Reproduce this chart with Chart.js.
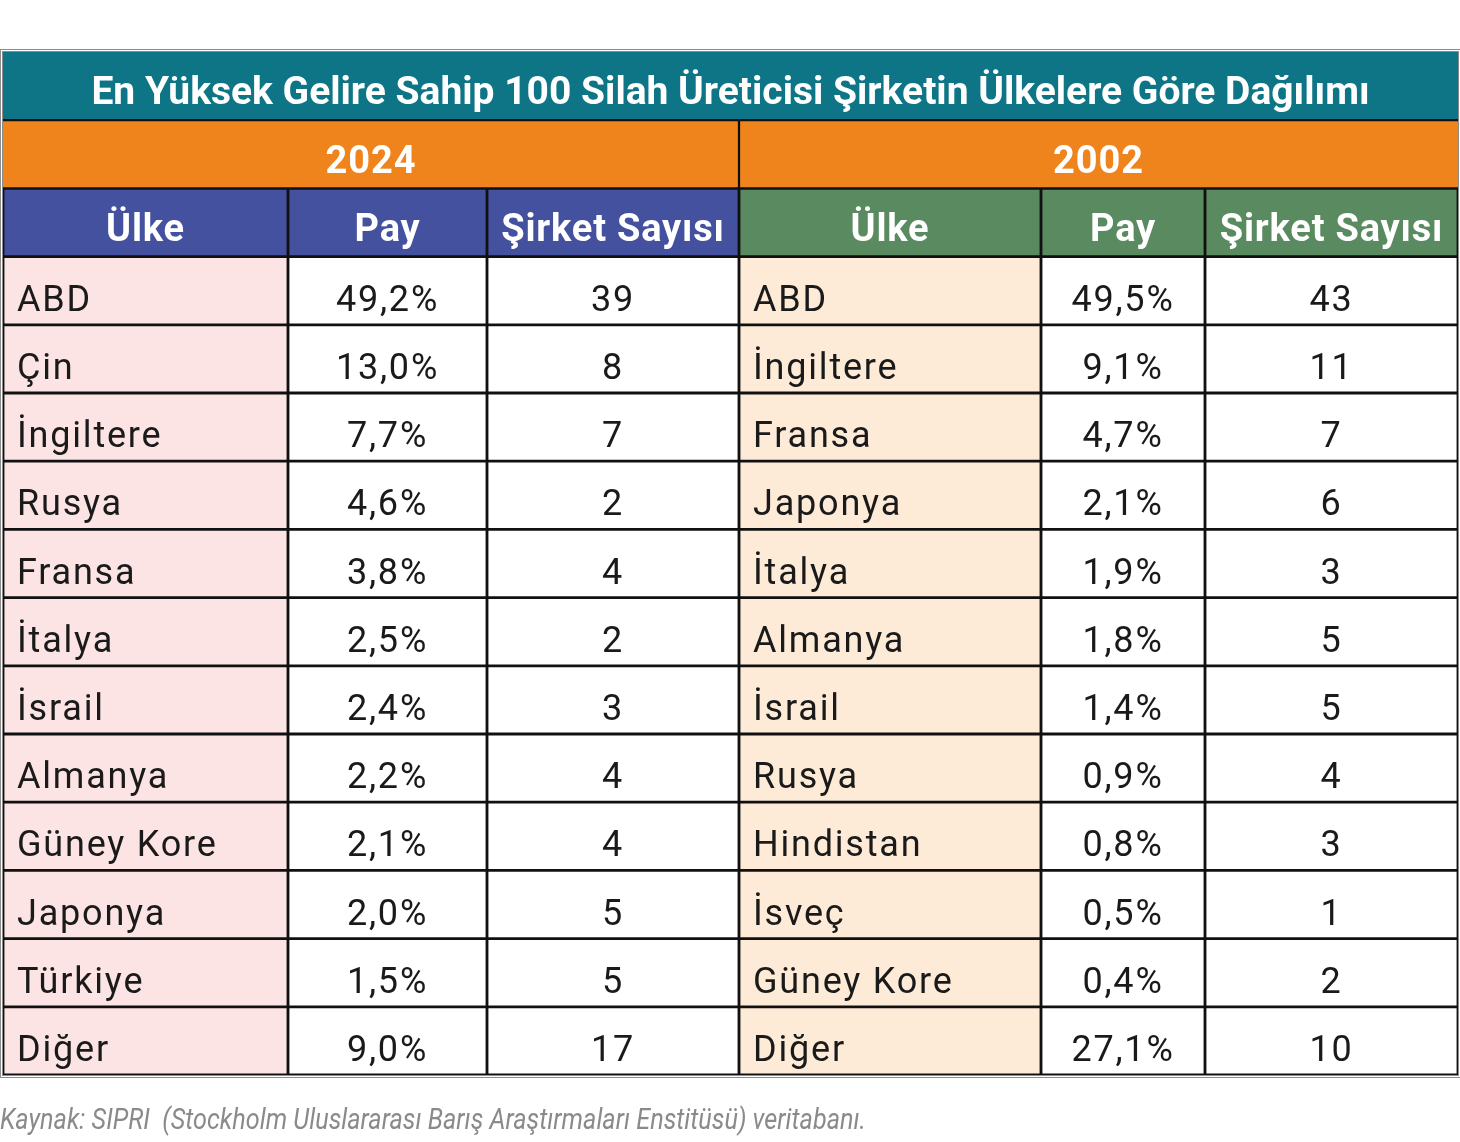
<!DOCTYPE html>
<html lang="tr">
<head>
    <meta charset="UTF-8">
    <title>En Yüksek Gelire Sahip 100 Silah Üreticisi Şirketin Ülkelere Göre Dağılımı</title>
    <style>
        body { margin: 0; background: #fff; }
        canvas { display: block; }
    </style>
    <script src="https://cdn.jsdelivr.net/npm/chart.js@4.4.1/dist/chart.umd.min.js"></script>
</head>
<body>
    <canvas id="tableChart" width="1460" height="1142"></canvas>

    <script>
        const titleText = 'En Yüksek Gelire Sahip 100 Silah Üreticisi Şirketin Ülkelere Göre Dağılımı';
        const years = ['2024', '2002'];
        const headers = ['Ülke', 'Pay', 'Şirket Sayısı'];

        const countries2024 = ['ABD', 'Çin', 'İngiltere', 'Rusya', 'Fransa', 'İtalya', 'İsrail', 'Almanya', 'Güney Kore', 'Japonya', 'Türkiye', 'Diğer'];
        const share2024 = [49.2, 13.0, 7.7, 4.6, 3.8, 2.5, 2.4, 2.2, 2.1, 2.0, 1.5, 9.0];
        const count2024 = [39, 8, 7, 2, 4, 2, 3, 4, 4, 5, 5, 17];

        const countries2002 = ['ABD', 'İngiltere', 'Fransa', 'Japonya', 'İtalya', 'Almanya', 'İsrail', 'Rusya', 'Hindistan', 'İsveç', 'Güney Kore', 'Diğer'];
        const share2002 = [49.5, 9.1, 4.7, 2.1, 1.9, 1.8, 1.4, 0.9, 0.8, 0.5, 0.4, 27.1];
        const count2002 = [43, 11, 7, 6, 3, 5, 5, 4, 3, 1, 2, 10];

        const sourceText = 'Kaynak: SIPRI  (Stockholm Uluslararası Barış Araştırmaları Enstitüsü) veritabanı.';

        // Layout: column edges on a 0..1455 x scale, one category per table row
        const colEdges = [0, 285, 484, 736, 1038, 1202, 1455];
        const nRows = 3 + countries2024.length;
        const rowLabels = Array.from({ length: nRows }, (_, i) => i);

        const TEAL = '#0e7587';
        const ORANGE = '#ef841c';
        const BLUE = '#43519e';
        const GREEN = '#5a8a5f';
        const PINK = '#fde4e4';
        const PEACH = '#fdebd8';
        const LINE = '#111111';

        const fmtShare = v => v.toFixed(1).replace('.', ',') + '%';

        // cell text per column (data rows only)
        const columnTexts = [
            countries2024,
            share2024.map(fmtShare),
            count2024.map(String),
            countries2002,
            share2002.map(fmtShare),
            count2002.map(String)
        ];
        const headerColors = [BLUE, BLUE, BLUE, GREEN, GREEN, GREEN];
        const bodyColors = [PINK, '#ffffff', '#ffffff', PEACH, '#ffffff', '#ffffff'];

        function bandRow(row, from, to) {
            return rowLabels.map(i => (i === row ? [from, to] : null));
        }

        const datasets = [];
        // title band
        datasets.push({
            data: bandRow(0, colEdges[0], colEdges[6]),
            backgroundColor: TEAL,
            borderColor: LINE,
            borderWidth: { top: 0, left: 0, right: 0, bottom: 1.5 }
        });
        // year bands
        datasets.push({
            data: bandRow(1, colEdges[0], colEdges[3]),
            backgroundColor: ORANGE,
            borderColor: LINE,
            borderWidth: { top: 1.5, left: 0, right: 1.5, bottom: 1.5 }
        });
        datasets.push({
            data: bandRow(1, colEdges[3], colEdges[6]),
            backgroundColor: ORANGE,
            borderColor: LINE,
            borderWidth: { top: 1.5, left: 1.5, right: 0, bottom: 1.5 }
        });
        // table columns: header row + body rows
        for (let c = 0; c < 6; c++) {
            datasets.push({
                data: rowLabels.map(i => (i >= 2 ? [colEdges[c], colEdges[c + 1]] : null)),
                backgroundColor: rowLabels.map(i => (i === 2 ? headerColors[c] : bodyColors[c])),
                borderColor: LINE,
                borderWidth: 1.75
            });
        }
        datasets.forEach(ds => {
            ds.grouped = false;
            ds.borderSkipped = false;
            ds.barPercentage = 1;
            ds.categoryPercentage = 1;
        });

        const cellText = {
            id: 'cellText',
            afterDatasetsDraw(chart) {
                const ctx = chart.ctx;
                const x = chart.scales.x;
                const y = chart.scales.y;
                const area = chart.chartArea;
                ctx.save();
                ctx.textBaseline = 'middle';

                // outer double frame
                ctx.strokeStyle = '#8c8c8c';
                ctx.lineWidth = 1;
                ctx.strokeRect(area.left - 2.5, area.top - 2.5, area.right - area.left + 5, area.bottom - area.top + 5);
                ctx.strokeRect(area.left - 0.5, area.top - 0.5, area.right - area.left + 1, area.bottom - area.top + 1);

                // title
                ctx.fillStyle = '#ffffff';
                ctx.textAlign = 'center';
                ctx.font = 'bold 39px Roboto';
                ctx.fillText(titleText, x.getPixelForValue((colEdges[0] + colEdges[6]) / 2), y.getPixelForValue(0) + 8);

                // years
                ctx.font = 'bold 38px Roboto';
                ctx.letterSpacing = '1px';
                ctx.fillText(years[0], x.getPixelForValue((colEdges[0] + colEdges[3]) / 2), y.getPixelForValue(1) + 9);
                ctx.fillText(years[1], x.getPixelForValue((colEdges[3] + colEdges[6]) / 2), y.getPixelForValue(1) + 9);

                // headers
                ctx.letterSpacing = '0.8px';
                for (let c = 0; c < 6; c++) {
                    const cx = x.getPixelForValue((colEdges[c] + colEdges[c + 1]) / 2);
                    ctx.fillText(headers[c % 3], cx, y.getPixelForValue(2) + 9);
                }

                // body
                ctx.fillStyle = '#1a1a1a';
                ctx.font = '36px Roboto';
                ctx.letterSpacing = '1.8px';
                for (let c = 0; c < 6; c++) {
                    const texts = columnTexts[c];
                    const isName = c % 3 === 0;
                    ctx.textAlign = isName ? 'left' : 'center';
                    const tx = isName
                        ? x.getPixelForValue(colEdges[c]) + 14
                        : x.getPixelForValue((colEdges[c] + colEdges[c + 1]) / 2);
                    texts.forEach((t, r) => {
                        ctx.fillText(t, tx, y.getPixelForValue(r + 3) + 11);
                    });
                }

                // source line, squeezed to the reference width
                ctx.letterSpacing = '0px';
                ctx.fillStyle = '#8a8a8a';
                ctx.textAlign = 'left';
                ctx.font = 'italic 29px Roboto';
                const w = ctx.measureText(sourceText).width;
                const target = 866;
                ctx.translate(0, area.bottom + 47);
                ctx.scale(target / w, 1);
                ctx.fillText(sourceText, 0, 0);
                ctx.restore();
            }
        };

        new Chart(document.getElementById('tableChart').getContext('2d'), {
            type: 'bar',
            data: { labels: rowLabels, datasets: datasets },
            options: {
                indexAxis: 'y',
                responsive: false,
                animation: false,
                layout: { padding: { left: 3, right: 2, top: 52, bottom: 67 } },
                scales: {
                    x: { type: 'linear', min: colEdges[0], max: colEdges[6], display: false },
                    y: { type: 'category', display: false }
                },
                plugins: {
                    legend: { display: false },
                    tooltip: { enabled: false },
                    title: { display: false }
                }
            },
            plugins: [cellText]
        });
    </script>
</body>
</html>
